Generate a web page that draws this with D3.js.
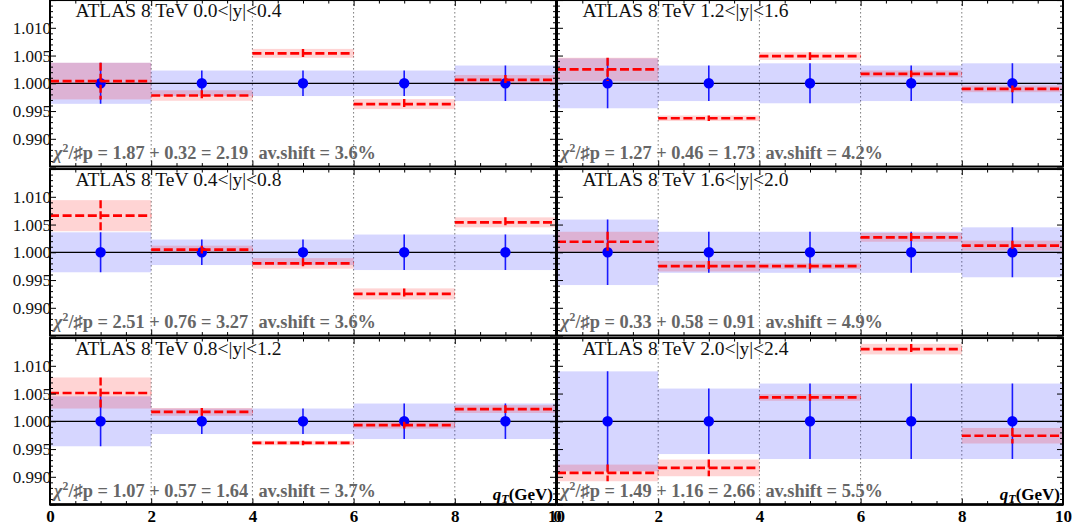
<!DOCTYPE html>
<html><head><meta charset="utf-8">
<script src="https://cdn.jsdelivr.net/npm/d3@7"></script>
<style>body{margin:0;background:#fff} svg{display:block}</style>
</head><body><svg id="c" width="1078" height="529"></svg>
<script>
// ---- data ----
const binEdges = [0, 2, 4, 6, 8, 10];
const binCenters = [1, 3, 5, 7, 9];
const rapidityBins = ["0.0<|y|<0.4", "0.4<|y|<0.8", "0.8<|y|<1.2", "1.2<|y|<1.6", "1.6<|y|<2.0", "2.0<|y|<2.4"];
// data uncertainty (blue), relative to 1
const dataErr = [
  [0.0037, 0.0023, 0.0023, 0.0023, 0.0032],
  [0.0036, 0.0023, 0.0023, 0.0032, 0.0032],
  [0.0045, 0.0023, 0.0023, 0.0032, 0.0032],
  [0.0045, 0.0032, 0.0036, 0.0032, 0.0036],
  [0.0059, 0.0037, 0.0037, 0.0037, 0.0045],
  [0.0090, 0.0059, 0.0068, 0.0068, 0.0068]
];
// theory / shifted values (red)
const shiftVal = [
  [1.0004, 0.9978, 1.0054, 0.99625, 1.0006],
  [1.0066, 1.0005, 0.9980, 0.9925, 1.0054],
  [1.0051, 1.0017, 0.9961, 0.9993, 1.0022],
  [1.0025, 0.9937, 1.0049, 1.0017, 0.9990],
  [1.0019, 0.9975, 0.9975, 1.0027, 1.0012],
  [0.9907, 0.9916, 1.0043, 1.0130, 0.9974]
];
const shiftErr = [
  [0.0033, 0.00095, 0.0008, 0.0009, 0.0009],
  [0.0028, 0.0007, 0.00095, 0.0010, 0.0009],
  [0.0028, 0.0007, 0.0004, 0.0006, 0.0007],
  [0.0021, 0.0005, 0.0007, 0.0006, 0.0006],
  [0.0018, 0.00095, 0.0005, 0.0008, 0.0009],
  [0.0015, 0.0015, 0.0006, 0.00095, 0.0014]
];
const chi2Data  = ["1.87", "2.51", "1.07", "1.27", "0.33", "1.49"];
const chi2Norm  = ["0.32", "0.76", "0.57", "0.46", "0.58", "1.16"];
const chi2Total = ["2.19", "3.27", "1.64", "1.73", "0.91", "2.66"];
const avShift   = ["3.6%", "3.6%", "3.7%", "4.2%", "4.9%", "5.5%"];
const yTickLabels = [0.990, 0.995, 1.000, 1.005, 1.010];
const xTickLabels = [0, 2, 4, 6, 8, 10];
const yDomain = [0.985, 1.015];
const xDomain = [0, 10];

// ---- layout ----
const svg = d3.select("#c");
const cols = [{x0: 50, x1: 556}, {x0: 557, x1: 1063}];
const rowStep = 169, panelH = 166.5, topOff = 0.05;
const serif = "'Liberation Serif','DejaVu Serif',serif";
const defs = svg.append("defs");

rapidityBins.forEach((lab, i) => {
  const col = Math.floor(i / 3), row = i % 3;
  const c = cols[col];
  const top = topOff + row * rowStep, bot = top + panelH;
  const x = d3.scaleLinear().domain(xDomain).range([c.x0, c.x1]);
  const y = d3.scaleLinear().domain(yDomain).range([bot, top]);

  defs.append("clipPath").attr("id", "clip" + i)
    .append("rect").attr("x", c.x0).attr("y", top).attr("width", c.x1 - c.x0).attr("height", panelH);
  const g = svg.append("g").attr("clip-path", `url(#clip${i})`);

  // grid
  g.selectAll(".grid").data(binEdges.slice(1, -1)).join("line")
    .attr("x1", d => x(d)).attr("x2", d => x(d)).attr("y1", top).attr("y2", bot)
    .attr("stroke", "#777").attr("stroke-width", 1).attr("stroke-dasharray", "1.5,2.5");

  const bins = binCenters.map((cx, k) => ({
    lo: binEdges[k], hi: binEdges[k + 1], cx, de: dataErr[i][k], sv: shiftVal[i][k], se: shiftErr[i][k]
  }));

  // blue bands
  g.selectAll(".bb").data(bins).join("rect")
    .attr("x", d => x(d.lo)).attr("width", d => x(d.hi) - x(d.lo))
    .attr("y", d => y(1 + d.de)).attr("height", d => y(1 - d.de) - y(1 + d.de))
    .attr("fill", "rgb(0,0,255)").attr("fill-opacity", 0.16);
  // pink bands
  g.selectAll(".rb").data(bins).join("rect")
    .attr("x", d => x(d.lo)).attr("width", d => x(d.hi) - x(d.lo))
    .attr("y", d => y(d.sv + d.se)).attr("height", d => y(d.sv - d.se) - y(d.sv + d.se))
    .attr("fill", "rgb(255,0,0)").attr("fill-opacity", 0.17);

  // line at 1
  g.append("line").attr("x1", c.x0).attr("x2", c.x1).attr("y1", y(1)).attr("y2", y(1))
    .attr("stroke", "#000").attr("stroke-width", 1.2);

  // blue error bars + points
  g.selectAll(".be").data(bins).join("line")
    .attr("x1", d => x(d.cx)).attr("x2", d => x(d.cx))
    .attr("y1", d => y(1 + d.de)).attr("y2", d => y(1 - d.de))
    .attr("stroke", "#1a1aff").attr("stroke-width", 1.6);
  g.selectAll(".bp").data(bins).join("circle")
    .attr("cx", d => x(d.cx)).attr("cy", y(1)).attr("r", 5.2).attr("fill", "#0000ff");

  // red dashed lines + error bars
  g.selectAll(".rl").data(bins).join("line")
    .attr("x1", d => x(d.lo)).attr("x2", d => x(d.hi))
    .attr("y1", d => y(d.sv)).attr("y2", d => y(d.sv))
    .attr("stroke", "#ff0000").attr("stroke-width", 2.7).attr("stroke-dasharray", "9,3.6");
  g.selectAll(".re").data(bins).join("line")
    .attr("x1", d => x(d.cx)).attr("x2", d => x(d.cx))
    .attr("y1", d => y(d.sv + d.se)).attr("y2", d => y(d.sv - d.se))
    .attr("stroke", "#ff0000").attr("stroke-width", 2.4).attr("stroke-dasharray", "8,3");

  // ticks (inward) using d3 axes
  const xMinor = d3.range(0, 10.001, 0.5), yMinor = d3.range(0, 31).map(k => +(0.985 + k * 0.001).toFixed(3));
  const isMajX = d => Math.abs(d % 2) < 1e-9;
  const isMajY = d => Math.abs(Math.round(d * 1000) % 5) === 0;
  const tickGroup = (axis, tx, ty) => {
    const a = svg.append("g").attr("transform", `translate(${tx},${ty})`).call(axis);
    a.select(".domain").remove();
    a.selectAll("text").remove();
    a.selectAll("line").attr("stroke", "#000").attr("stroke-width", 1);
    return a;
  };
  tickGroup(d3.axisBottom(x).tickValues(xMinor.filter(d => !isMajX(d))).tickSize(3.5), 0, top);
  tickGroup(d3.axisBottom(x).tickValues(xMinor.filter(isMajX)).tickSize(6), 0, top);
  tickGroup(d3.axisTop(x).tickValues(xMinor.filter(d => !isMajX(d))).tickSize(3.5), 0, bot);
  tickGroup(d3.axisTop(x).tickValues(xMinor.filter(isMajX)).tickSize(6), 0, bot);
  tickGroup(d3.axisRight(y).tickValues(yMinor.filter(d => !isMajY(d))).tickSize(3), c.x0, 0);
  tickGroup(d3.axisRight(y).tickValues(yMinor.filter(isMajY)).tickSize(6), c.x0, 0);
  tickGroup(d3.axisLeft(y).tickValues(yMinor.filter(d => !isMajY(d))).tickSize(3), c.x1, 0);
  tickGroup(d3.axisLeft(y).tickValues(yMinor.filter(isMajY)).tickSize(6), c.x1, 0);

  // frame
  svg.append("rect").attr("x", c.x0).attr("y", top).attr("width", c.x1 - c.x0).attr("height", panelH)
    .attr("fill", "none").attr("stroke", "#000").attr("stroke-width", 2);

  // y tick labels (left column only)
  if (col === 0) {
    const ya = svg.append("g").attr("transform", `translate(${c.x0 + 1},0)`)
      .call(d3.axisLeft(y).tickValues(yTickLabels).tickFormat(d3.format(".3f")).tickSize(0).tickPadding(0));
    ya.select(".domain").remove();
    ya.selectAll("text").attr("font-family", serif).attr("font-size", 17).attr("fill", "#111");
  }
  // x tick labels (bottom row)
  if (row === 2) {
    const xa = svg.append("g").attr("transform", `translate(0,${bot + 5})`)
      .call(d3.axisBottom(x).tickValues(xTickLabels).tickFormat(d3.format("d")).tickSize(0).tickPadding(0));
    xa.select(".domain").remove();
    xa.selectAll("text").attr("font-family", serif).attr("font-size", 17).attr("font-weight", "bold").attr("fill", "#000");
    svg.append("line").attr("x1", c.x0).attr("x2", c.x1).attr("y1", bot).attr("y2", bot)
      .attr("stroke", "#000").attr("stroke-width", 2.6);
    const qt = svg.append("text").attr("x", c.x1 - 3).attr("y", bot - 5).attr("text-anchor", "end")
      .attr("font-family", serif).attr("font-size", 17).attr("font-weight", "bold").attr("fill", "#000");
    qt.append("tspan").attr("font-style", "italic").text("q");
    qt.append("tspan").attr("font-style", "italic").attr("font-size", 12).attr("dy", 3).text("T");
    qt.append("tspan").attr("dy", -3).text("(GeV)");
  }

  // title
  svg.append("text").attr("x", c.x0 + 25.5).attr("y", top + 17)
    .attr("font-family", serif).attr("font-size", 19.5).attr("fill", "#111")
    .text("ATLAS 8 TeV " + lab);

  // chi2 text
  const t = svg.append("text").attr("x", c.x0 + 4).attr("y", bot - 7.5)
    .attr("font-family", serif).attr("font-size", 18).attr("font-weight", "bold").attr("fill", "#666")
    .attr("textLength", 322).attr("lengthAdjust", "spacingAndGlyphs");
  t.append("tspan").attr("font-style", "italic").text("χ");
  t.append("tspan").attr("font-size", 11.5).attr("dy", -7).text("2");
  t.append("tspan").attr("dy", 7).text("/♯p = " + chi2Data[i] + " + " + chi2Norm[i] + " = " + chi2Total[i]);
  t.append("tspan").attr("dx", 10).text("av.shift = " + avShift[i]);
});
</script>
</body></html>
